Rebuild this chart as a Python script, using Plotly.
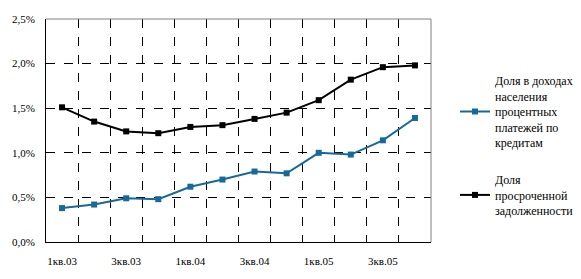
import plotly.graph_objects as go

quarters = ["1кв.03", "2кв.03", "3кв.03", "4кв.03", "1кв.04", "2кв.04", "3кв.04", "4кв.04",
            "1кв.05", "2кв.05", "3кв.05", "4кв.05"]
share_payments = [0.0038, 0.0042, 0.0049, 0.0048, 0.0062, 0.0070, 0.0079, 0.0077,
                  0.0100, 0.0098, 0.0114, 0.0139]
share_overdue = [0.0151, 0.0135, 0.0124, 0.0122, 0.0129, 0.0131, 0.0138, 0.0145,
                 0.0159, 0.0182, 0.0196, 0.0198]
name_payments = "Доля в доходах<br>населения<br>процентных<br>платежей по<br>кредитам"
name_overdue = "Доля<br>просроченной<br>задолженности"

x = list(range(len(quarters)))
label_idx = x[::2]
label_txt = quarters[::2]

FONT = "Liberation Serif"
BLUE = "#17699a"
CLEAR = "rgba(0,0,0,0)"

fig = go.Figure()
fig.add_trace(go.Scatter(x=x, y=share_payments, name=name_payments, mode="lines+markers",
                         line=dict(color=BLUE, width=2), marker=dict(symbol="square", size=6, color=BLUE),
                         legendgroup="a"))
fig.add_trace(go.Scatter(x=x, y=share_overdue, name=name_overdue, mode="lines+markers",
                         line=dict(color="black", width=2), marker=dict(symbol="square", size=6, color="black"),
                         legendgroup="b"))

fig.update_layout(
    width=581, height=279,
    margin=dict(l=38, r=150, t=19, b=34),
    paper_bgcolor="white", plot_bgcolor="white",
    separators=", ",
    font=dict(family=FONT, size=11, color="black"),
    showlegend=True,
    legend=dict(xref="container", yref="container", x=455 / 581, y=1 - 66 / 279,
                xanchor="left", yanchor="top", font=dict(family=FONT, size=12),
                tracegroupgap=18, itemwidth=30, bgcolor=CLEAR, traceorder="grouped",
                maxheight=270),
    xaxis=dict(range=[-0.5, len(quarters) - 0.5], tickmode="array", tickvals=label_idx, ticktext=label_txt,
               showgrid=False, zeroline=False, showline=True, linecolor="black", linewidth=1,
               ticks="outside", ticklen=9, tickcolor=CLEAR,
               minor=dict(tickmode="array", tickvals=[i + 0.5 for i in x[:-1]], showgrid=True,
                          gridcolor="black", griddash="dash", gridwidth=1, ticks="")),
    yaxis=dict(range=[0, 0.025], tickmode="array", tickvals=[0, 0.005, 0.01, 0.015, 0.02, 0.025],
               tickformat=".1%", showgrid=False, zeroline=False, showline=True, linecolor="black",
               linewidth=1, ticks="outside", ticklen=8, tickcolor=CLEAR,
               minor=dict(tickmode="array", tickvals=[0.005, 0.01, 0.015, 0.02], showgrid=True,
                          gridcolor="black", griddash="dash", gridwidth=1, ticks="")),
    shapes=[
        dict(type="line", xref="x domain", yref="y domain", x0=0, x1=1, y0=1, y1=1,
             line=dict(color="#808080", width=1)),
        dict(type="line", xref="x domain", yref="y domain", x0=1, x1=1, y0=0, y1=1,
             line=dict(color="#808080", width=1)),
    ],
)

fig.write_html("out.html")
